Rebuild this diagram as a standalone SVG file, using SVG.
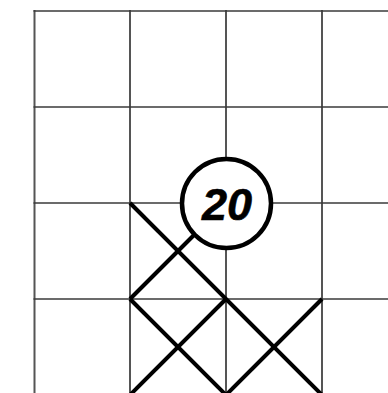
<svg xmlns="http://www.w3.org/2000/svg" width="388" height="393" viewBox="0 0 388 393">
<style>
.grid{stroke:#3a3a3a;stroke-width:1.6;fill:none}
.vg{stroke:#555;stroke-width:2}
.diag{stroke:#000;stroke-width:4;fill:none;stroke-linecap:butt}
.lbl{font-family:"Liberation Sans",Arial,sans-serif;font-weight:bold;font-style:italic;font-size:45px;fill:#000;stroke:#000;stroke-width:0.6;text-anchor:middle}
</style>
<rect width="388" height="393" fill="#fff"/>
<g id="grid">
<line class="grid vg" x1="34.5" y1="10" x2="34.5" y2="393"/>
<line class="grid vg" x1="130" y1="10" x2="130" y2="393"/>
<line class="grid vg" x1="226" y1="10" x2="226" y2="393"/>
<line class="grid vg" x1="322" y1="10" x2="322" y2="393"/>
<line class="grid" x1="33.5" y1="11" x2="388" y2="11"/>
<line class="grid" x1="33.5" y1="107" x2="388" y2="107"/>
<line class="grid" x1="33.5" y1="203" x2="388" y2="203"/>
<line class="grid" x1="33.5" y1="299" x2="388" y2="299"/>
</g>
<g id="connectors">
<line class="diag" x1="130" y1="203" x2="324" y2="397"/>
<line class="diag" x1="130" y1="299" x2="200" y2="229"/>
<line class="diag" x1="130" y1="299" x2="228" y2="397"/>
<line class="diag" x1="226" y1="299" x2="128" y2="397"/>
<line class="diag" x1="322" y1="299" x2="224" y2="397"/>
</g>
<g id="node-20">
<circle cx="226.5" cy="203.5" r="44.5" fill="#fff" stroke="#000" stroke-width="4.5"/>
<text class="lbl" x="227" y="220">20</text>
</g>
</svg>
